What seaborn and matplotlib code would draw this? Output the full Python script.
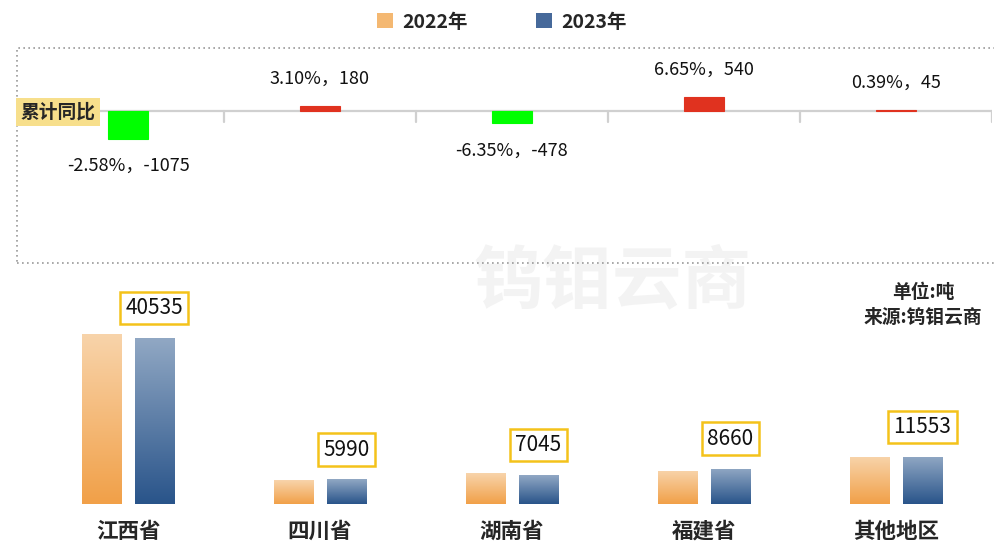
import numpy as np
import pandas as pd
import matplotlib
matplotlib.use("Agg")
import matplotlib.pyplot as plt
import seaborn as sns
from matplotlib.colors import LinearSegmentedColormap
from matplotlib.patches import Rectangle, Patch

# data
regions = ["江西省", "四川省", "湖南省", "福建省", "其他地区"]
years = ["2022年", "2023年"]
v2022 = [41610, 5810, 7523, 8120, 11508]
v2023 = [40535, 5990, 7045, 8660, 11553]
yoy_pct = [-2.58, 3.10, -6.35, 6.65, 0.39]
diff = [b - a for a, b in zip(v2022, v2023)]

sns.set_style("white")
plt.rcParams["font.family"] = ["Noto Sans CJK SC", "DejaVu Sans"]
plt.rcParams["axes.unicode_minus"] = False

W, H = 994, 546
fig = plt.figure(figsize=(W / 100, H / 100), dpi=100)


def fx(px):
    return px / W


def fy(py):
    return 1 - py / H


orange_top, orange_bot = "#f8d4ab", "#f1a048"
blue_top, blue_bot = "#91a8c4", "#29548a"


def gradient_fill(ax, patch, top_color, bottom_color):
    x0, y0 = patch.get_x(), patch.get_y()
    w, h = patch.get_width(), patch.get_height()
    cmap = LinearSegmentedColormap.from_list("g", [bottom_color, top_color])
    grad = np.linspace(0, 1, 256).reshape(-1, 1)
    im = ax.imshow(grad, cmap=cmap, origin="lower", aspect="auto",
                   extent=[x0, x0 + w, y0, y0 + h], zorder=2)
    im.set_clip_path(patch)
    patch.set_facecolor("none")
    patch.set_edgecolor("none")


# watermark
fig.text(fx(612), fy(282), "钨钼云商", fontsize=50, fontweight="bold",
         color="#f3f3f3", ha="center", va="center", zorder=0)

# top panel: year-on-year change
ax1 = fig.add_axes([fx(32), fy(263), fx(960), 215 / H])
colors = ["#00ff00" if d < 0 else "#e0321f" for d in diff]
sns.barplot(x=regions, y=diff, hue=regions, palette=colors, legend=False,
            width=0.21, ax=ax1, saturation=1, zorder=3)
for bar, c in zip(ax1.patches, colors):
    bar.set_edgecolor(c)
    bar.set_linewidth(0.8)
ax1.set_xlim(-0.5, 4.5)
ax1.set_ylim(-5850, 2420)
ax1.axhline(0, color="#d0d0d0", lw=1.6, zorder=2)
for xb in np.arange(0.5, 5, 1):
    ax1.plot([xb, xb], [0, -420], color="#d0d0d0", lw=1.6, zorder=2)
for spine in ax1.spines.values():
    spine.set_visible(False)
ax1.set_xticks([])
ax1.set_yticks([])
ax1.set_xlabel("")
ax1.patch.set_alpha(0)

for i, (p, d) in enumerate(zip(yoy_pct, diff)):
    off = 19.5 if d >= 0 else -19.5
    ax1.annotate(f"{p:.2f}%，{d}", xy=(i, d), xytext=(0, off),
                 textcoords="offset points", ha="center", va="center",
                 fontsize=13, fontweight="medium", color="#111111")

fig.text(fx(58), fy(112), "累计同比", fontsize=13.5, fontweight="bold",
         ha="center", va="center", zorder=5,
         bbox=dict(boxstyle="square,pad=0.25", fc="#f7df8c", ec="none"))

# dotted frame around the top panel
fig.patches.append(Rectangle((fx(17), fy(263)), fx(990), 215 / H,
                             transform=fig.transFigure, fill=False,
                             ls=(0, (1, 2)), lw=1.2, ec="#9a9a9a"))

# bottom panel: output by region
ax2 = fig.add_axes([fx(32), fy(504), fx(960), 224 / H])
df = pd.DataFrame({
    "region": regions * 2,
    "year": [years[0]] * 5 + [years[1]] * 5,
    "value": v2022 + v2023,
})
sns.barplot(data=df, x="region", y="value", hue="year",
            palette=[orange_bot, blue_bot], width=0.55, gap=0.25,
            legend=False, ax=ax2, saturation=1)
for bar in ax2.containers[0]:
    gradient_fill(ax2, bar, orange_top, orange_bot)
for bar, v in zip(ax2.containers[1], v2023):
    gradient_fill(ax2, bar, blue_top, blue_bot)
    cx = bar.get_x() + bar.get_width() / 2
    ax2.annotate(f"{v}", xy=(cx, v), xytext=(0, 21.5),
                 textcoords="offset points", ha="center", va="center",
                 fontsize=15, color="#111111",
                 bbox=dict(boxstyle="square,pad=0.25", fc="white",
                           ec="#f4c21a", lw=1.8))
ax2.set_xlim(-0.5, 4.5)
ax2.set_ylim(0, 54700)
for spine in ax2.spines.values():
    spine.set_visible(False)
ax2.set_yticks([])
ax2.set_xlabel("")
ax2.set_ylabel("")
ax2.tick_params(axis="x", length=0, pad=12)
for lab in ax2.get_xticklabels():
    lab.set_fontsize(15.5)
    lab.set_fontweight("bold")
ax2.patch.set_alpha(0)

fig.text(fx(923), fy(292), "单位:吨", fontsize=13.5, fontweight="bold",
         ha="center", va="center")
fig.text(fx(923), fy(317), "来源:钨钼云商", fontsize=13.5, fontweight="bold",
         ha="center", va="center")

handles = [Patch(fc="#f4b872", ec="none"), Patch(fc="#46699a", ec="none")]
fig.legend(handles, years, loc="center", bbox_to_anchor=(fx(502), fy(22)),
           ncol=2, frameon=False, handlelength=0.8,
           handleheight=0.8, handletextpad=0.5, columnspacing=3.5,
           prop={"size": 14, "weight": "bold"})

fig.savefig("out.png", dpi=100)
